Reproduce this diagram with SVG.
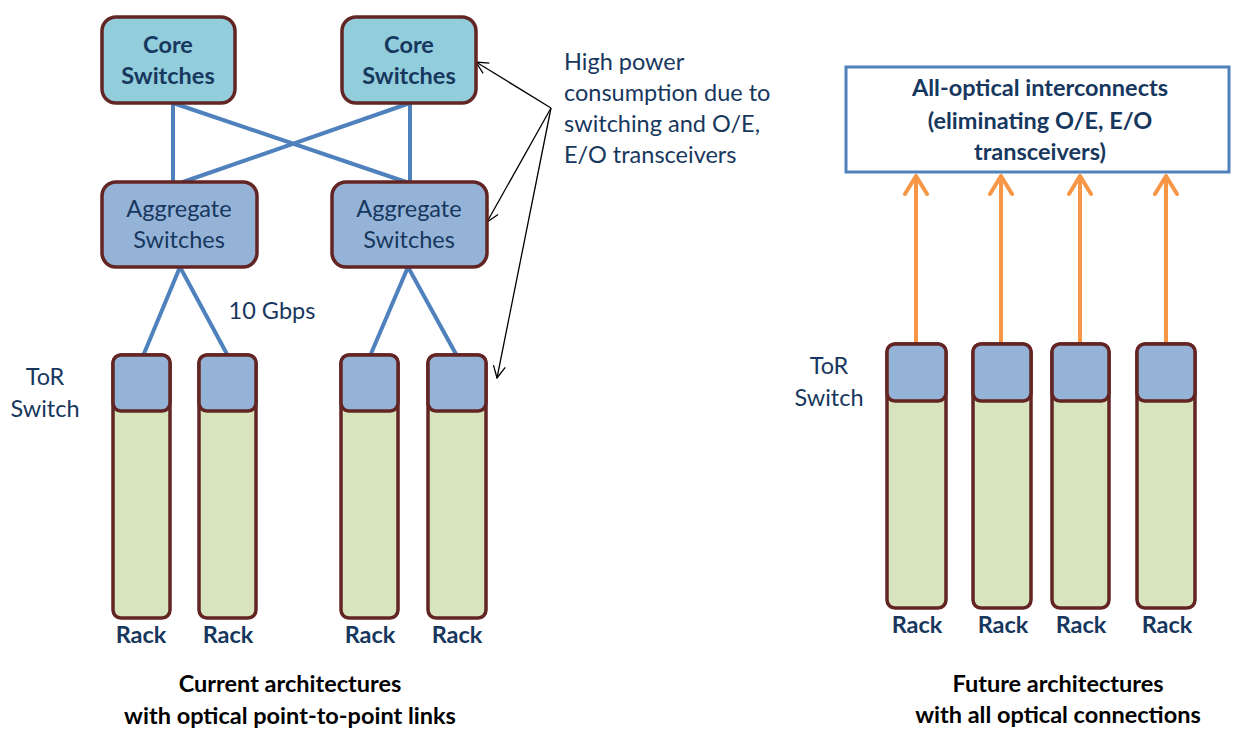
<svg xmlns="http://www.w3.org/2000/svg" width="1240" height="729" viewBox="0 0 1240 729">
<defs>
<style>
.t{font-family:Lato,"Open Sans","Liberation Sans",sans-serif;fill:#17375E;text-anchor:middle;font-size:23.5px}
.b{font-weight:bold}
.cap{font-family:Lato,"Open Sans","Liberation Sans",sans-serif;font-weight:bold;fill:#000;text-anchor:middle;font-size:23.5px}
.core{fill:#92CDDC;stroke:#632523;stroke-width:3.5}
.agg{fill:#95B3D7;stroke:#632523;stroke-width:3.5}
.rack{fill:#D7E4BD;stroke:#632523;stroke-width:3.5}
.tor{fill:#95B3D7;stroke:#632523;stroke-width:3.5}
.link{stroke:#4F81BD;stroke-width:4;fill:none}
.opt{stroke:#F79646;stroke-width:4;fill:none;stroke-linecap:round;stroke-linejoin:round}
.note{stroke:#000;stroke-width:1.3;fill:none}
</style>
<marker id="na" viewBox="0 0 14 14" refX="13" refY="7" markerWidth="14" markerHeight="14" markerUnits="userSpaceOnUse" orient="auto">
<path d="M1,1 L13,7 L1,13" fill="none" stroke="#000" stroke-width="1.3"/>
</marker>
</defs>
<rect width="1240" height="729" fill="#fff"/>

<g id="connectors">
<line class="link" x1="173" y1="103" x2="173" y2="183"/>
<line class="link" x1="173" y1="103" x2="409" y2="183"/>
<line class="link" x1="410" y1="103" x2="410" y2="183"/>
<line class="link" x1="410" y1="103" x2="180" y2="183"/>
<line class="link" x1="180" y1="267" x2="143" y2="356"/>
<line class="link" x1="180" y1="267" x2="228" y2="356"/>
<line class="link" x1="408" y1="267" x2="370" y2="356"/>
<line class="link" x1="408" y1="267" x2="457" y2="356"/>
<line class="note" x1="551" y1="108" x2="476" y2="62" marker-end="url(#na)"/>
<line class="note" x1="551" y1="108" x2="487" y2="222" marker-end="url(#na)"/>
<line class="note" x1="551" y1="108" x2="497" y2="378" marker-end="url(#na)"/>
<path class="opt" d="M916,345 V176 M905,194 L916,176 L927,194"/>
<path class="opt" d="M1001,345 V176 M990,194 L1001,176 L1012,194"/>
<path class="opt" d="M1080,345 V176 M1069,194 L1080,176 L1091,194"/>
<path class="opt" d="M1166,345 V176 M1155,194 L1166,176 L1177,194"/>
</g>

<g id="core1"><rect class="core" x="102" y="17" width="133" height="86" rx="14"/>
<text class="t b" x="168" y="53">Core</text><text class="t b" x="168" y="84">Switches</text></g>
<g id="core2"><rect class="core" x="342" y="17" width="134" height="86" rx="14"/>
<text class="t b" x="409" y="53">Core</text><text class="t b" x="409" y="84">Switches</text></g>
<g id="agg1"><rect class="agg" x="102" y="182" width="155" height="85" rx="14"/>
<text class="t" x="179" y="217">Aggregate</text><text class="t" x="179" y="248">Switches</text></g>
<g id="agg2"><rect class="agg" x="332" y="182" width="155" height="85" rx="14"/>
<text class="t" x="409" y="217">Aggregate</text><text class="t" x="409" y="248">Switches</text></g>

<g id="rack1"><rect class="rack" x="113" y="355" width="57" height="263" rx="8"/><rect class="tor" x="113" y="355" width="57" height="56" rx="8"/>
<text class="t b" x="141" y="643">Rack</text></g>
<g id="rack2"><rect class="rack" x="199" y="355" width="57" height="263" rx="8"/><rect class="tor" x="199" y="355" width="57" height="56" rx="8"/>
<text class="t b" x="228" y="643">Rack</text></g>
<g id="rack3"><rect class="rack" x="341" y="355" width="57" height="263" rx="8"/><rect class="tor" x="341" y="355" width="57" height="56" rx="8"/>
<text class="t b" x="370" y="643">Rack</text></g>
<g id="rack4"><rect class="rack" x="428" y="355" width="58" height="263" rx="8"/><rect class="tor" x="428" y="355" width="58" height="56" rx="8"/>
<text class="t b" x="457" y="643">Rack</text></g>

<g id="labels-left">
<text class="t" x="45" y="385">ToR</text>
<text class="t" x="45" y="417">Switch</text>
<text class="t" x="272" y="319">10 Gbps</text>
<text class="t" x="564" y="70" style="text-anchor:start">High power</text>
<text class="t" x="564" y="101" style="text-anchor:start">consumption due to</text>
<text class="t" x="564" y="132" style="text-anchor:start">switching and O/E,</text>
<text class="t" x="564" y="163" style="text-anchor:start">E/O transceivers</text>
<text class="cap" x="290" y="692">Current architectures</text>
<text class="cap" x="290" y="724">with optical point-to-point links</text>
</g>

<g id="optical-box"><rect x="846" y="67" width="383" height="105" fill="#fff" stroke="#4F81BD" stroke-width="3"/>
<text class="t b" x="1040" y="96">All-optical interconnects</text>
<text class="t b" x="1040" y="129">(eliminating O/E, E/O</text>
<text class="t b" x="1040" y="160">transceivers)</text></g>

<g id="rack5"><rect class="rack" x="887" y="344" width="59" height="264" rx="8"/><rect class="tor" x="887" y="344" width="59" height="57" rx="8"/>
<text class="t b" x="917" y="633">Rack</text></g>
<g id="rack6"><rect class="rack" x="973" y="344" width="58" height="264" rx="8"/><rect class="tor" x="973" y="344" width="58" height="57" rx="8"/>
<text class="t b" x="1003" y="633">Rack</text></g>
<g id="rack7"><rect class="rack" x="1052" y="344" width="57" height="264" rx="8"/><rect class="tor" x="1052" y="344" width="57" height="57" rx="8"/>
<text class="t b" x="1081" y="633">Rack</text></g>
<g id="rack8"><rect class="rack" x="1137" y="344" width="58" height="264" rx="8"/><rect class="tor" x="1137" y="344" width="58" height="57" rx="8"/>
<text class="t b" x="1167" y="633">Rack</text></g>

<g id="labels-right">
<text class="t" x="829" y="374">ToR</text>
<text class="t" x="829" y="406">Switch</text>
<text class="cap" x="1058" y="692">Future architectures</text>
<text class="cap" x="1058" y="723">with all optical connections</text>
</g>
</svg>
